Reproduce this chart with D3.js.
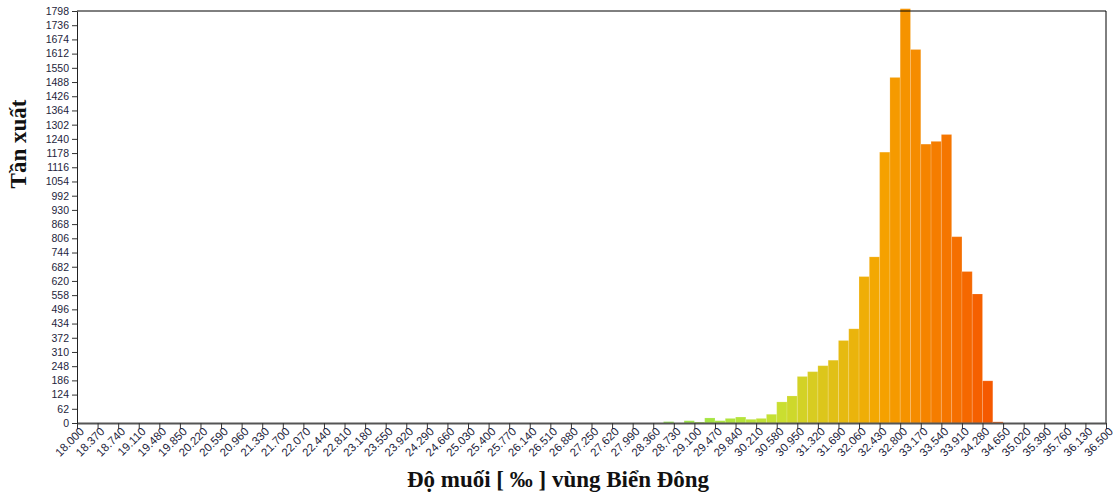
<!DOCTYPE html>
<html>
<head>
<meta charset="utf-8">
<script src="https://cdn.jsdelivr.net/npm/d3@7"></script>
<style>
  html, body { margin: 0; padding: 0; background: #fff; }
  svg { display: block; }
</style>
</head>
<body>
<svg id="chart" width="1116" height="497"></svg>
<script>
// Salinity histogram: lower edge of each bin (‰) and its frequency
const binWidth = 0.185;
const binStarts = [28.545, 28.730, 28.915, 29.100, 29.285, 29.470, 29.655, 29.840, 30.025, 30.210,
  30.395, 30.580, 30.765, 30.950, 31.135, 31.320, 31.505, 31.690, 31.875, 32.060,
  32.245, 32.430, 32.615, 32.800, 32.985, 33.170, 33.355, 33.540, 33.725, 33.910,
  34.095, 34.280, 34.465];
const counts = [6, 0, 10, 4, 22, 10, 20, 26, 16, 20,
  38, 92, 118, 203, 224, 250, 274, 360, 411, 639,
  725, 1182, 1508, 1808, 1630, 1217, 1229, 1259, 813, 661,
  563, 184, 5];

// Axis ticks
const xTicks = [18.000, 18.370, 18.740, 19.110, 19.480, 19.850, 20.220, 20.590, 20.960, 21.330,
  21.700, 22.070, 22.440, 22.810, 23.180, 23.550, 23.920, 24.290, 24.660, 25.030,
  25.400, 25.770, 26.140, 26.510, 26.880, 27.250, 27.620, 27.990, 28.360, 28.730,
  29.100, 29.470, 29.840, 30.210, 30.580, 30.950, 31.320, 31.690, 32.060, 32.430,
  32.800, 33.170, 33.540, 33.910, 34.280, 34.650, 35.020, 35.390, 35.760, 36.130, 36.500];
const yTicks = [0, 62, 124, 186, 248, 310, 372, 434, 496, 558, 620, 682, 744, 806, 868, 930,
  992, 1054, 1116, 1178, 1240, 1302, 1364, 1426, 1488, 1550, 1612, 1674, 1736, 1798];

const xTitle = "Độ muối [ ‰ ] vùng Biển Đông";
const yTitle = "Tần xuất";

const W = 1116, H = 497;
const margin = { top: 11, right: 10, bottom: 74, left: 77 };
const iw = W - margin.left - margin.right;
const ih = H - margin.top - margin.bottom;

const svg = d3.select("#chart");
const g = svg.append("g").attr("transform", `translate(${margin.left},${margin.top})`);

const x = d3.scaleLinear().domain([18, 36.5]).range([0, iw]);
const y = d3.scaleLinear().domain([0, 1798]).range([ih, 0]);

// colour ramp along salinity: green -> yellow-green -> orange -> red-orange
const color = d3.scaleLinear()
  .domain([28.6, 30.6, 32.4, 34.4])
  .range(["#8fe84a", "#c8e032", "#f5a600", "#f55800"])
  .interpolate(d3.interpolateRgb)
  .clamp(true);

const bins = binStarts.map((s, i) => ({ s, c: counts[i] }));

// bars
g.append("g").selectAll("rect")
  .data(bins.filter(d => d.c > 0))
  .join("rect")
  .attr("x", d => x(d.s))
  .attr("width", d => x(d.s + binWidth) - x(d.s))
  .attr("y", d => y(d.c))
  .attr("height", d => y(0) - y(d.c))
  .attr("fill", d => color(d.s + binWidth / 2))
  .attr("stroke", "#fff")
  .attr("stroke-opacity", 0.15)
  .attr("stroke-width", 1);

// frame: top and right edges
g.append("line").attr("x1", 0).attr("x2", iw).attr("y1", 0).attr("y2", 0)
  .attr("stroke", "#000").attr("stroke-width", 1);
g.append("line").attr("x1", iw).attr("x2", iw).attr("y1", 0).attr("y2", ih)
  .attr("stroke", "#000").attr("stroke-width", 1);

// x axis
const xAxis = g.append("g")
  .attr("transform", `translate(0,${ih})`)
  .call(d3.axisBottom(x).tickValues(xTicks).tickFormat(d3.format(".3f")).tickSize(6).tickSizeOuter(0));
xAxis.select(".domain").attr("stroke", "#555").attr("stroke-width", 2);
xAxis.selectAll(".tick line").attr("stroke", "#333");
xAxis.selectAll(".tick text")
  .attr("font-family", "'Liberation Sans', Arial, sans-serif")
  .attr("font-size", 11.5)
  .attr("fill", "#1e1e3c")
  .attr("text-anchor", "end")
  .attr("dx", "0.25em")
  .attr("dy", "0.65em")
  .attr("y", 6)
  .attr("transform", "rotate(-45, 0, 6)");

// y axis
const yAxis = g.append("g")
  .call(d3.axisLeft(y).tickValues(yTicks).tickFormat(d3.format("d")).tickSize(5).tickSizeOuter(0));
yAxis.select(".domain").attr("stroke", "#222").attr("stroke-width", 1);
yAxis.selectAll(".tick line").attr("stroke", "#333");
yAxis.selectAll(".tick text")
  .attr("font-family", "'Liberation Sans', Arial, sans-serif")
  .attr("font-size", 10.5)
  .attr("fill", "#1e1e3c")
  .attr("x", -8);

// axis titles
svg.append("text")
  .attr("x", W / 2).attr("y", 487)
  .attr("text-anchor", "middle")
  .attr("font-family", "'Liberation Serif', 'Times New Roman', serif")
  .attr("font-weight", "bold")
  .attr("font-size", 23)
  .attr("fill", "#111")
  .text(xTitle);

svg.append("text")
  .attr("transform", "translate(26,144) rotate(-90)")
  .attr("text-anchor", "middle")
  .attr("font-family", "'Liberation Serif', 'Times New Roman', serif")
  .attr("font-weight", "bold")
  .attr("font-size", 23)
  .attr("fill", "#111")
  .text(yTitle);
</script>
</body>
</html>
